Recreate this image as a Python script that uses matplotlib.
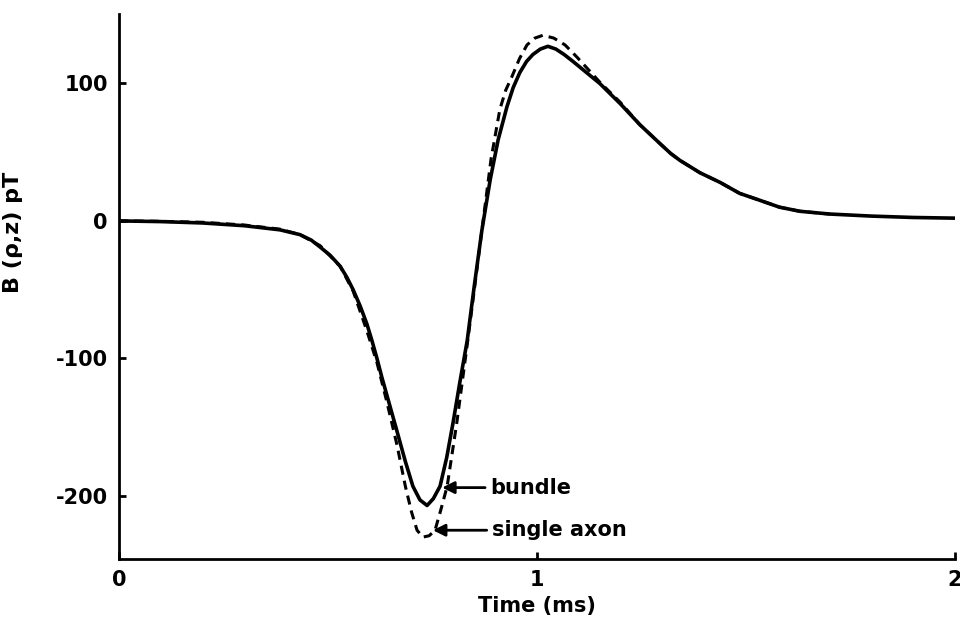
import matplotlib
matplotlib.use("Agg")
from matplotlib import pyplot as plt

plt.rcParams['font.family'] = ['DejaVu Sans']
plt.rcParams['axes.unicode_minus'] = False

# bundle (solid)
t_bundle = [0.0, 0.1, 0.2, 0.3, 0.385, 0.433, 0.46, 0.481, 0.505, 0.529,
            0.545, 0.56, 0.577, 0.593, 0.605, 0.617, 0.629, 0.641, 0.653,
            0.665, 0.685, 0.703, 0.72, 0.737, 0.752, 0.768, 0.784, 0.799,
            0.815, 0.833, 0.85, 0.868, 0.888, 0.907, 0.928, 0.943, 0.959,
            0.975, 0.99, 1.008, 1.026, 1.045, 1.065, 1.086, 1.11, 1.13, 1.15,
            1.2, 1.246, 1.295, 1.32, 1.342, 1.39, 1.438, 1.485, 1.533, 1.58,
            1.629, 1.7, 1.8, 1.9, 2.0]
b_bundle = [0, -0.5, -1.5, -3.5, -6.5, -10, -14, -19, -25, -33,
            -41, -50, -62, -75, -87, -100, -114, -127, -140,
            -153, -175, -193, -203, -207, -202, -193, -172, -147,
            -118, -87, -47, -7, 30, 59, 83, 97, 108,
            116, 121, 125, 127, 125, 121, 116, 110, 105, 100,
            85, 70, 56, 49, 44, 35, 28, 20, 15, 10,
            7, 5, 3.5, 2.5, 2]

# single axon (dashed)
t_axon = [0.0, 0.1, 0.2, 0.3, 0.385, 0.433, 0.481, 0.529, 0.56, 0.593,
          0.617, 0.641, 0.665, 0.685, 0.70, 0.713, 0.727, 0.742, 0.756,
          0.77, 0.785, 0.808, 0.833, 0.85, 0.868, 0.89, 0.911, 0.925, 0.94,
          0.958, 0.976, 0.995, 1.014, 1.04, 1.067, 1.096, 1.12, 1.15, 1.2,
          1.246, 1.295, 1.32, 1.342, 1.39, 1.438, 1.485, 1.533, 1.58, 1.629,
          1.7]
b_axon = [0, -0.3, -1, -3, -6, -10, -18, -33, -51, -80,
          -103, -132, -163, -193, -212, -225, -230, -229, -225,
          -210, -193, -147, -90, -50, -7, 45, 81, 95, 105,
          118, 128, 133, 135, 133, 128, 119, 111, 101, 86,
          70, 56, 49, 44, 35, 28, 20, 15, 10, 7,
          5]

xticks = [0, 1, 2]
yticks = [100, 0, -100, -200]

fig = plt.figure(figsize=(9.6, 6.24), dpi=100)
ax = fig.add_axes([0.124, 0.104, 0.8708, 0.874])

ax.plot(t_bundle, b_bundle, color='black', lw=2.6, solid_joinstyle='round')
ax.plot(t_axon, b_axon, color='black', lw=2.2, linestyle=(0, (3, 2)))

ax.set_xlim(0, 2)
ax.set_ylim(-246, 150.7)
ax.set_xticks(xticks)
ax.set_xticklabels([str(v) for v in xticks])
ax.set_yticks(yticks)
ax.set_yticklabels([str(v) for v in yticks])

for s in ['top', 'right']:
    ax.spines[s].set_visible(False)
for s in ['left', 'bottom']:
    ax.spines[s].set_linewidth(2)
ax.tick_params(direction='in', length=5, width=2, labelsize=15, pad=8)
for lab in ax.get_xticklabels() + ax.get_yticklabels():
    lab.set_fontweight('bold')

ax.set_xlabel('Time (ms)', fontsize=15, fontweight='bold', labelpad=4)
ax.set_ylabel('B (\u03c1,z) pT', fontsize=16, fontweight='bold')
ax.yaxis.set_label_coords(-0.115, 0.60)

arrow = dict(arrowstyle='-|>', color='black', lw=2, mutation_scale=18,
             shrinkA=2, shrinkB=0)
ax.annotate('bundle', xy=(0.773, -194), xytext=(0.889, -194),
            ha='left', va='center', fontsize=15, fontweight='bold',
            arrowprops=arrow)
ax.annotate('single axon', xy=(0.751, -225), xytext=(0.893, -225),
            ha='left', va='center', fontsize=15, fontweight='bold',
            arrowprops=arrow)

fig.savefig('out.png', dpi=100)
